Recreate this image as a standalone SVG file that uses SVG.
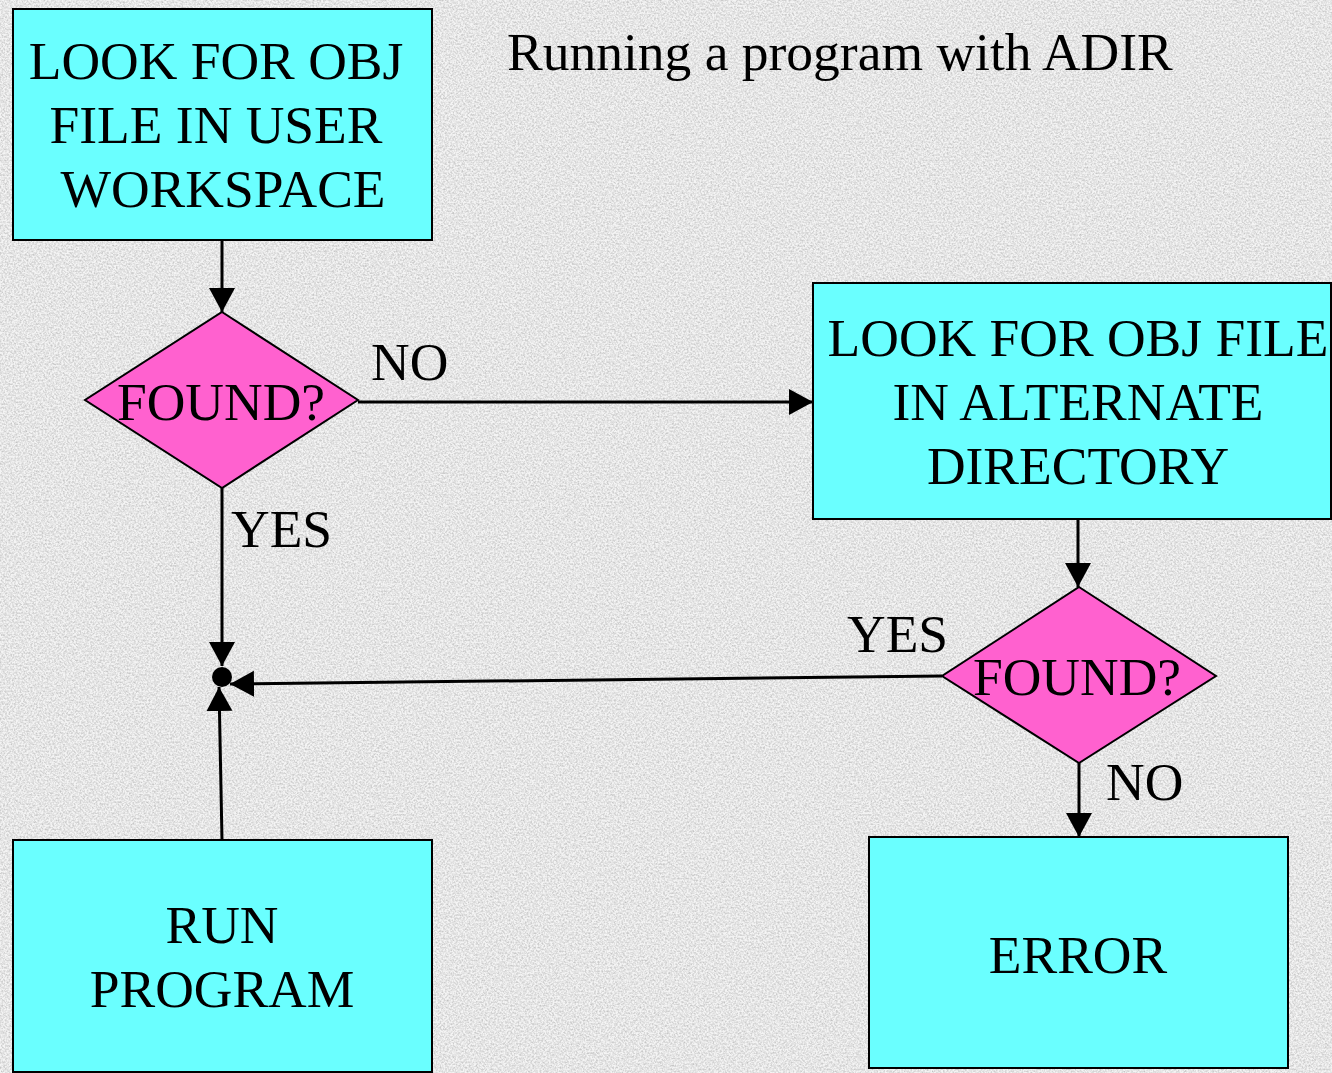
<svg xmlns="http://www.w3.org/2000/svg" width="1332" height="1073" viewBox="0 0 1332 1073">
  <style>
    .box { fill: #6affff; stroke: #000; stroke-width: 2; }
    .dec { fill: #ff61cf; stroke: #000; stroke-width: 2; }
    .txt { font-family: "Liberation Serif", "Times New Roman", serif; font-size: 53.5px; fill: #000; }
    .mid { text-anchor: middle; }
    .edge { stroke: #000; stroke-width: 3; fill: none; marker-end: url(#arrow); }
  </style>
  <defs>
    <marker id="arrow" markerUnits="userSpaceOnUse" markerWidth="26" markerHeight="28" refX="24" refY="13" orient="auto">
      <path d="M0,0 L24,13 L0,26 Z" fill="#000"/>
    </marker>
    <filter id="granite" x="0" y="0" width="100%" height="100%">
      <feTurbulence type="fractalNoise" baseFrequency="0.55" numOctaves="3" seed="7" result="noise"/>
      <feColorMatrix in="noise" type="matrix" values="0 0 0 0 0  0 0 0 0 0  0 0 0 0 0  -0.9 0 0 0 0.6"/>
    </filter>
  </defs>

  <!-- speckled stone background -->
  <rect x="0" y="0" width="1332" height="1073" fill="#f4f4f4"/>
  <rect x="0" y="0" width="1332" height="1073" filter="url(#granite)" opacity="0.4"/>

  <text class="txt" x="507" y="70">Running a program with ADIR</text>

  <g id="connectors">
    <line class="edge" x1="222" y1="240" x2="222" y2="312"/>
    <line class="edge" x1="358" y1="402" x2="813" y2="402"/>
    <line class="edge" x1="222" y1="488" x2="222" y2="666"/>
    <line class="edge" x1="1078" y1="520" x2="1078" y2="587"/>
    <line class="edge" x1="942" y1="676" x2="230" y2="684"/>
    <line class="edge" x1="1079" y1="763" x2="1079" y2="837"/>
    <line class="edge" x1="222" y1="840" x2="219" y2="687"/>
    <circle cx="222" cy="677" r="10" fill="#000"/>
    <text class="txt" x="371" y="380">NO</text>
    <text class="txt" x="231" y="547">YES</text>
    <text class="txt" x="847" y="652">YES</text>
    <text class="txt" x="1106" y="800">NO</text>
  </g>

  <g id="look-user">
    <rect class="box" x="13" y="9" width="419" height="231"/>
    <text class="txt mid" x="216" y="79">LOOK FOR OBJ</text>
    <text class="txt mid" x="216" y="143">FILE IN USER</text>
    <text class="txt mid" x="223" y="207">WORKSPACE</text>
  </g>

  <g id="found-user">
    <polygon class="dec" points="222,312 358,400 222,488 85,400"/>
    <text class="txt mid" x="221" y="420">FOUND?</text>
  </g>

  <g id="look-alternate">
    <rect class="box" x="813" y="283" width="518" height="236"/>
    <text class="txt mid" x="1078" y="356">LOOK FOR OBJ FILE</text>
    <text class="txt mid" x="1078" y="420">IN ALTERNATE</text>
    <text class="txt mid" x="1078" y="484">DIRECTORY</text>
  </g>

  <g id="found-alternate">
    <polygon class="dec" points="1079,587 1216,676 1079,763 942,676"/>
    <text class="txt mid" x="1077" y="695">FOUND?</text>
  </g>

  <g id="error">
    <rect class="box" x="869" y="837" width="419" height="231"/>
    <text class="txt mid" x="1078" y="973">ERROR</text>
  </g>

  <g id="run-program">
    <rect class="box" x="13" y="840" width="419" height="232"/>
    <text class="txt mid" x="222" y="943">RUN</text>
    <text class="txt mid" x="222" y="1007">PROGRAM</text>
  </g>
</svg>
